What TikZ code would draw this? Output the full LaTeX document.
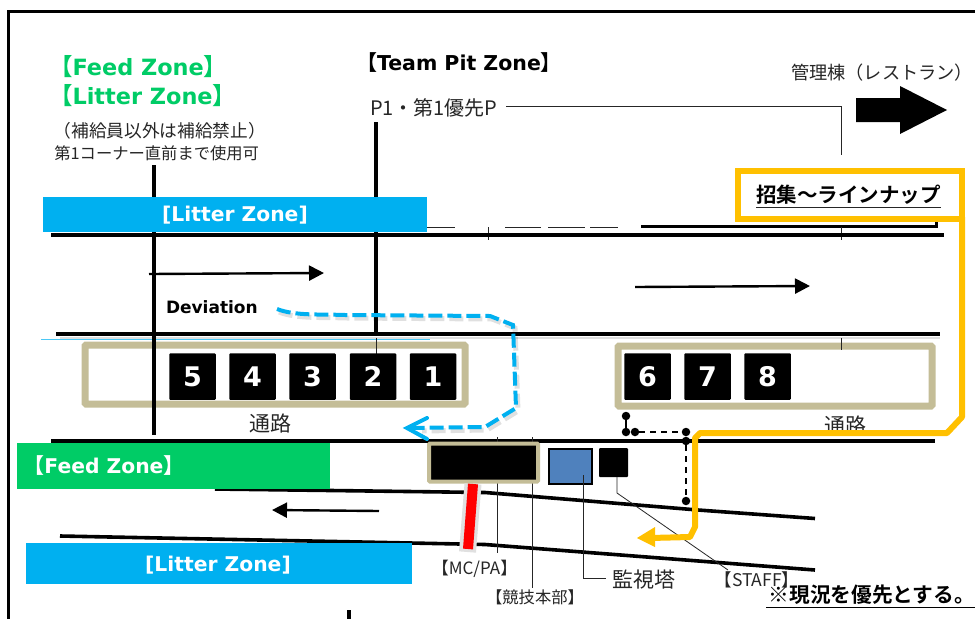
\documentclass[tikz,border=0pt]{standalone}
\usepackage{fontspec}
\setmainfont{DejaVu Sans}
\newfontfamily\jp{Noto Sans CJK JP}
\newfontfamily\jpb{Noto Sans CJK JP Bold}
\newfontfamily\vb{DejaVu Sans Bold}
\usetikzlibrary{arrows.meta}
\definecolor{tan}{HTML}{C4BD97}
\definecolor{lblue}{HTML}{00B0F0}
\definecolor{gz}{HTML}{00CC66}
\definecolor{yel}{HTML}{FFC000}
\definecolor{bbox}{HTML}{4F81BD}
\definecolor{txt}{HTML}{262626}
\newcommand{\fs}[1]{\fontsize{#1}{#1}\selectfont}
\tikzset{
  x=1pt,y=-1pt,
  lbl/.style={inner sep=0pt,outer sep=0pt,anchor=center},
  road/.style={line width=4pt,black},
  thin line/.style={line width=1pt,draw=txt},
  post/.style={line width=3.5pt,black},
  flow/.style={line width=2.4pt,black,-{Triangle[length=15pt,width=15pt]}},
  bay/.style={draw=tan,line width=7pt,fill=white,rounded corners=1pt},
  gridbox/.style={fill=black,rounded corners=1pt,minimum width=46.5pt,minimum height=46.5pt,inner sep=0pt,outer sep=0pt,text=white,font={\vb\fs{27}}},
  zonebar/.style={inner sep=0pt,outer sep=0pt,text=white,anchor=north west},
  dot/.style={circle,fill=black,minimum size=8.5pt,inner sep=0pt,outer sep=0pt},
  dashblk/.style={line width=2pt,black,dash pattern=on 6pt off 5pt},
}
\begin{document}
\begin{tikzpicture}
\useasboundingbox (0,0) rectangle (975,619);
\fill[white] (0,0) rectangle (975,619);
% frame
\draw[line width=3pt,black] (975,11) -- (8.5,11) -- (8.5,619);
\draw[line width=4pt,black] (349,610) -- (349,619);
% thin details near the top road
\draw[line width=.8pt,txt] (427,227) -- (455,227) (505,227) -- (541,227) (548,227) -- (585,227) (590,227) -- (618,227);
\draw[line width=3pt,black] (641,226) -- (936,226) -- (936,222);
\draw[line width=.8pt,txt] (488,227) -- (488,240) (841,227) -- (841,240);
% roads
\draw[road] (51,234.5) -- (944,234.5);
\fill[black!25,opacity=.5] (60,337) rectangle (940,339);
\draw[road] (56,334) -- (940,334);
\draw[line width=.6pt,lblue!70] (41,339) -- (430,339);
\draw[road] (51,440.5) -- (935,440.5);
\draw[line width=3.6pt,black] (215,489) -- (485,492.5) -- (698,510) -- (815,518.5);
\draw[line width=3.6pt,black] (60,536) -- (485,544.5) -- (815,570);
% bays
\node[bay,minimum width=380pt,minimum height=59pt,inner sep=0pt,outer sep=0pt] (bayL) at (275,374.5) {};
\node[bay,minimum width=314pt,minimum height=60pt,inner sep=0pt,outer sep=0pt] (bayR) at (775,376) {};
% posts
\draw[post] (154,165) -- (154,435);
\draw[post] (376,122) -- (376,333);
\draw[line width=.8pt,txt] (376,338) -- (376,355) (841,338) -- (841,350);
% grid
\node[gridbox] (g5) at (192.5,376.5) {5};
\node[gridbox] (g4) at (252.5,376.5) {4};
\node[gridbox] (g3) at (312.5,376.5) {3};
\node[gridbox] (g2) at (373,376.5) {2};
\node[gridbox] (g1) at (433,376.5) {1};
\node[gridbox] (g6) at (647.5,376.5) {6};
\node[gridbox] (g7) at (707.5,376.5) {7};
\node[gridbox] (g8) at (767.5,376.5) {8};
% zone bars
\node[zonebar,fill=lblue,minimum width=384pt,minimum height=35pt] (zt) at (43,197) {};
\node[lbl,text=white] (ztt) at (235,215) {\vb\fs{20.3}[Litter Zone]};
\node[zonebar,fill=gz,minimum width=313pt,minimum height=46pt] (zf) at (17,443) {};
\node[lbl,text=white] (zft) at (104,466) {\jpb\fs{21}【\vb\fs{20.3}Feed Zone\jpb\fs{21}】};
\node[zonebar,fill=lblue,minimum width=386pt,minimum height=41pt] (zb) at (26,543) {};
\node[lbl,text=white] (zbt) at (218,565) {\vb\fs{20.3}[Litter Zone]};
% flow arrows
\coordinate (a1s) at (149,274); \coordinate (a1e) at (324,273);
\coordinate (a2s) at (635,287); \coordinate (a2e) at (810,286);
\coordinate (a3s) at (379,511); \coordinate (a3e) at (272,510);
\draw[flow] (a1s) -- (a1e);
\draw[flow] (a2s) -- (a2e);
\draw[flow] (a3s) -- (a3e);
% management arrow
\fill[black] (856,98) -- (900,98) -- (900,86) -- (947,110) -- (900,134) -- (900,122) -- (856,122) -- cycle;
% P1 leader
\node[lbl,anchor=west,text=txt] (p1) at (370,107.5) {\jp\fs{20}P1・第1優先P};
\coordinate (p1a) at (506,106); \coordinate (p1b) at (841,106); \coordinate (p1c) at (841,155);
\draw[thin line] (p1a) -- (p1b) -- (p1c);
% titles
\node[lbl,anchor=west,text=gz] (tf) at (49,66.5) {\jpb\fs{23.5}【\vb\fs{22.4}Feed Zone\jpb\fs{23.5}】};
\node[lbl,anchor=west,text=gz] (tl) at (49,95.5) {\jpb\fs{23.5}【\vb\fs{22.4}Litter Zone\jpb\fs{23.5}】};
\node[lbl,anchor=east,text=txt] (n1) at (266,131) {\jp\fs{17.7}（補給員以外は補給禁止）};
\node[lbl,anchor=east,text=txt] (n2) at (259,153) {\jp\fs{16.3}第1コーナー直前まで使用可};
\node[lbl,anchor=west,text=black] (tp) at (356,63) {\jpb\fs{21}【\vb\fs{20.5}Team Pit Zone\jpb\fs{21}】};
\node[lbl,text=txt] (kanri) at (882,73) {\jp\fs{18.2}管理棟（レストラン）};
\node[lbl,anchor=west,text=black] (dev) at (166,307) {\vb\fs{17}Deviation};
\node[lbl,text=txt] (t1) at (270,423) {\jp\fs{21}通路};
\node[lbl,text=txt] (t2) at (845,425) {\jp\fs{21}通路};
% dashed black route
\node[dot] (d1) at (626,416) {};
\node[dot] (d2) at (626,432) {};
\node[dot] (d3) at (635,432) {};
\node[dot] (d4) at (686,432) {};
\node[dot] (d5) at (686,441) {};
\node[dot] (d6) at (686,501) {};
\draw[line width=1.8pt,black] (d1) -- (d2);
\draw[dashblk] (d3) -- (d4);
\draw[dashblk] (d5) -- (d6);
% structures
\draw[thin line] (497,437) -- (497,553);
\draw[thin line] (532,437) -- (532,588);
\node[fill=black,draw=tan,line width=4pt,minimum width=109pt,minimum height=38pt,inner sep=0pt,outer sep=0pt,rounded corners=1pt] (mc) at (483.5,462.5) {};
\draw[line width=17pt,black!12] (473,484) -- (467.5,552);
\draw[line width=10pt,red] (473,484) -- (468,549);
\node[fill=bbox,draw=black,line width=2.8pt,minimum width=43pt,minimum height=35pt,inner sep=0pt,outer sep=0pt] (tower) at (570.5,466.5) {};
\node[fill=black,minimum width=29pt,minimum height=29pt,inner sep=0pt,outer sep=0pt,rounded corners=1pt] (staff) at (613.5,462.5) {};
\node[lbl,text=txt] (lmc) at (474.5,569) {\jp\fs{17}【MC/PA】};
\node[lbl,text=txt] (lkg) at (535,597) {\jp\fs{16.3}【競技本部】};
\node[lbl,text=txt] (lto) at (643.5,580) {\jp\fs{21}監視塔};
\node[lbl,text=txt] (lst) at (757,580) {\jp\fs{17.5}【STAFF】};
\coordinate (tw1) at (583,475); \coordinate (tw2) at (583,578); \coordinate (tw3) at (606,578);
\draw[thin line] (tw1) -- (tw2) -- (tw3);
\coordinate (st1) at (617,477); \coordinate (st2) at (617,493); \coordinate (st3) at (728,570);
\draw[thin line,line width=.8pt] (st1) -- (st2) -- (st3);
% blue deviation path
\begin{scope}[shift={(2,3)}]
\draw[black,opacity=.12,line width=5pt,dash pattern=on 14pt off 5pt] (277,309) .. controls (295,316) and (320,314) .. (345,315) -- (490,316) -- (513,325) -- (516,408) -- (485,427) -- (420,428);
\end{scope}
\draw[lblue,line width=4pt,dash pattern=on 14pt off 5pt] (277,309) .. controls (295,316) and (320,314) .. (345,315) -- (490,316) -- (513,325) -- (516,408) -- (485,427) -- (408,428);
\draw[lblue,line width=4pt,line cap=round] (427,418) -- (407,428) -- (427,439);
% yellow box and route
\node[draw=yel,line width=6pt,fill=white,minimum width=224pt,minimum height=48pt,inner sep=0pt,outer sep=0pt] (yb) at (850,195) {};
\node[lbl,text=black] (ybt) at (848.5,195) {\jpb\fs{20.5}招集～ラインナップ};
\draw[line width=1pt,txt] (756,207.5) -- (941,207.5);
\coordinate (y1) at (962,217); \coordinate (y2) at (962,417); \coordinate (y3) at (947,433);
\coordinate (y4) at (700,433); \coordinate (y5) at (695,438); \coordinate (y6) at (695,527);
\coordinate (y7) at (690,537); \coordinate (y8) at (650,538);
\draw[yel,line width=6pt,line join=round] (y1) -- (y2) -- (y3) -- (y4) -- (y5) -- (y6) -- (y7) -- (y8);
\fill[yel] (637,538) -- (655,527) -- (655,547) -- cycle;
% note
\node[lbl,anchor=east,text=black] (note) at (975,595) {\jpb\fs{20.7}※現況を優先とする。};
\draw[line width=1pt,black] (766,607) -- (975,607);
\end{tikzpicture}
\end{document}
